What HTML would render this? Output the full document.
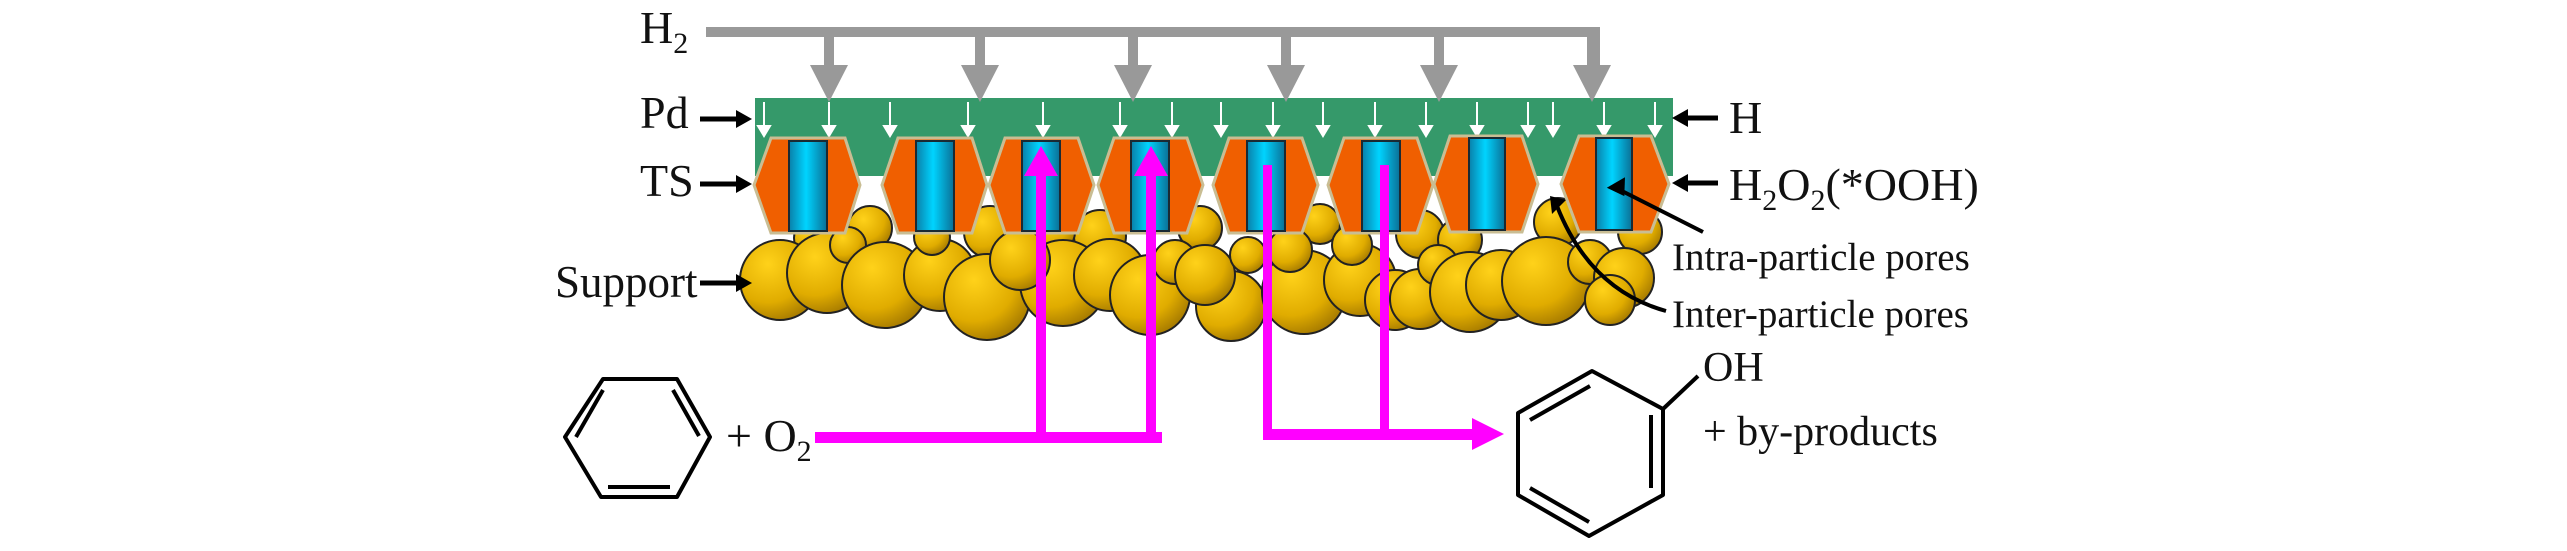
<!DOCTYPE html>
<html><head><meta charset="utf-8"><style>
html,body{margin:0;padding:0;background:#fff;}
svg{display:block;}
svg text{font-family:"Liberation Serif","DejaVu Serif",serif;}
</style></head><body>
<svg width="2567" height="551" viewBox="0 0 2567 551" xmlns="http://www.w3.org/2000/svg">
<defs>
<radialGradient id="gold" cx="0.35" cy="0.3" r="0.8">
<stop offset="0" stop-color="#ffd21a"/><stop offset="0.6" stop-color="#e0ac00"/><stop offset="1" stop-color="#9a7000"/>
</radialGradient>
<linearGradient id="rod" x1="0" x2="1" y1="0" y2="0">
<stop offset="0" stop-color="#0a7fa8"/><stop offset="0.45" stop-color="#00d4ff"/><stop offset="1" stop-color="#0b6f95"/>
</linearGradient>
</defs>

<g stroke="#222" stroke-width="2" fill="url(#gold)">
<circle cx="1558" cy="222" r="24"/><circle cx="1640" cy="232" r="22"/><circle cx="1200" cy="228" r="22"/><circle cx="1320" cy="224" r="20"/>
<circle cx="990" cy="232" r="26"/><circle cx="870" cy="228" r="22"/><circle cx="1100" cy="236" r="26"/><circle cx="1420" cy="234" r="24"/>
<circle cx="812" cy="238" r="18"/><circle cx="1460" cy="240" r="22"/><circle cx="1055" cy="232" r="20"/>
<circle cx="780" cy="280" r="40"/><circle cx="827" cy="273" r="40"/><circle cx="848" cy="245" r="18"/>
<circle cx="885" cy="285" r="43"/><circle cx="940" cy="275" r="36"/><circle cx="932" cy="237" r="18"/>
<circle cx="987" cy="297" r="43"/><circle cx="1063" cy="283" r="43"/><circle cx="1020" cy="260" r="30"/>
<circle cx="1110" cy="275" r="36"/><circle cx="1150" cy="295" r="40"/><circle cx="1175" cy="262" r="22"/>
<circle cx="1231" cy="306" r="35"/><circle cx="1205" cy="275" r="30"/><circle cx="1248" cy="255" r="18"/>
<circle cx="1304" cy="292" r="42"/><circle cx="1290" cy="250" r="22"/><circle cx="1360" cy="280" r="36"/>
<circle cx="1352" cy="245" r="20"/><circle cx="1395" cy="300" r="30"/><circle cx="1420" cy="299" r="30"/><circle cx="1438" cy="265" r="20"/>
<circle cx="1470" cy="292" r="40"/><circle cx="1501" cy="285" r="35"/><circle cx="1546" cy="281" r="44"/>
<circle cx="1590" cy="262" r="22"/><circle cx="1624" cy="278" r="30"/><circle cx="1610" cy="300" r="25"/>
</g>

<rect x="755" y="98" width="918" height="78" fill="#35996a"/>
<g fill="#fff" stroke="#fff" stroke-width="2">
<line x1="764" y1="102" x2="764" y2="128"/><path d="M758,126 L770,126 L764,136z"/>
<line x1="829" y1="102" x2="829" y2="128"/><path d="M823,126 L835,126 L829,136z"/>
<line x1="890" y1="102" x2="890" y2="128"/><path d="M884,126 L896,126 L890,136z"/>
<line x1="968" y1="102" x2="968" y2="128"/><path d="M962,126 L974,126 L968,136z"/>
<line x1="1043" y1="102" x2="1043" y2="128"/><path d="M1037,126 L1049,126 L1043,136z"/>
<line x1="1120" y1="102" x2="1120" y2="128"/><path d="M1114,126 L1126,126 L1120,136z"/>
<line x1="1172" y1="102" x2="1172" y2="128"/><path d="M1166,126 L1178,126 L1172,136z"/>
<line x1="1221" y1="102" x2="1221" y2="128"/><path d="M1215,126 L1227,126 L1221,136z"/>
<line x1="1273" y1="102" x2="1273" y2="128"/><path d="M1267,126 L1279,126 L1273,136z"/>
<line x1="1323" y1="102" x2="1323" y2="128"/><path d="M1317,126 L1329,126 L1323,136z"/>
<line x1="1375" y1="102" x2="1375" y2="128"/><path d="M1369,126 L1381,126 L1375,136z"/>
<line x1="1426" y1="102" x2="1426" y2="128"/><path d="M1420,126 L1432,126 L1426,136z"/>
<line x1="1477" y1="102" x2="1477" y2="128"/><path d="M1471,126 L1483,126 L1477,136z"/>
<line x1="1528" y1="102" x2="1528" y2="128"/><path d="M1522,126 L1534,126 L1528,136z"/>
<line x1="1553" y1="102" x2="1553" y2="128"/><path d="M1547,126 L1559,126 L1553,136z"/>
<line x1="1604" y1="102" x2="1604" y2="128"/><path d="M1598,126 L1610,126 L1604,136z"/>
<line x1="1655" y1="102" x2="1655" y2="128"/><path d="M1649,126 L1661,126 L1655,136z"/>
</g>

<g stroke="#c9bd93" stroke-width="3" fill="#f05f00">
<path d="M771,138 L845,138 L860,185 L845,233 L771,233 L754,185z"/>
<path d="M898,138 L972,138 L987,185 L972,233 L898,233 L882,185z"/>
<path d="M1005,138 L1078,138 L1094,185 L1078,233 L1005,233 L989,185z"/>
<path d="M1114,138 L1187,138 L1203,185 L1187,233 L1114,233 L1098,185z"/>
<path d="M1229,138 L1302,138 L1318,185 L1302,233 L1229,233 L1213,185z"/>
<path d="M1344,138 L1417,138 L1433,185 L1417,233 L1344,233 L1328,185z"/>
<path d="M1450,136 L1522,136 L1538,184 L1522,232 L1450,232 L1434,184z"/>
<path d="M1579,136 L1651,136 L1669,184 L1651,232 L1579,232 L1561,184z"/>
</g>
<g fill="url(#rod)" stroke="#1a2a33" stroke-width="2">
<rect x="789" y="141" width="38" height="90"/>
<rect x="916" y="141" width="38" height="90"/>
<rect x="1022" y="141" width="38" height="90"/>
<rect x="1131" y="141" width="38" height="90"/>
<rect x="1247" y="141" width="38" height="90"/>
<rect x="1362" y="141" width="38" height="90"/>
<rect x="1469" y="138" width="36" height="92"/>
<rect x="1596" y="138" width="36" height="92"/>
</g>

<g fill="#999">
<rect x="706" y="27" width="893" height="10"/>
<rect x="1590" y="27" width="10" height="40"/>
<rect x="824" y="32" width="10" height="35"/><path d="M810,65 L848,65 L829,102z"/>
<rect x="975" y="32" width="10" height="35"/><path d="M961,65 L999,65 L980,102z"/>
<rect x="1128" y="32" width="10" height="35"/><path d="M1114,65 L1152,65 L1133,102z"/>
<rect x="1281" y="32" width="10" height="35"/><path d="M1267,65 L1305,65 L1286,102z"/>
<rect x="1434" y="32" width="10" height="35"/><path d="M1420,65 L1458,65 L1439,102z"/>
<rect x="1587" y="32" width="10" height="35"/><path d="M1573,65 L1611,65 L1592,102z"/>
</g>

<g fill="#ff00ff">
<rect x="815" y="432" width="347" height="11"/>
<rect x="1036" y="170" width="10" height="265"/>
<path d="M1024,176 L1058,176 L1041,146z"/>
<rect x="1146" y="170" width="10" height="265"/>
<path d="M1134,176 L1168,176 L1151,146z"/>
<rect x="1263" y="165" width="9" height="270"/>
<rect x="1380" y="165" width="9" height="270"/>
<rect x="1263" y="429" width="212" height="11"/>
<path d="M1472,418 L1504,434 L1472,450z"/>
</g>

<g fill="#111" style="font-family:'Liberation Serif','DejaVu Serif',serif">
<text x="640" y="43" font-size="46">H<tspan font-size="30" dy="10">2</tspan></text>
<text x="640" y="128" font-size="46">Pd</text>
<text x="640" y="196" font-size="46">TS</text>
<text x="555" y="297" font-size="45">Support</text>
<text x="1729" y="133" font-size="46">H</text>
<text x="1729" y="200" font-size="46">H<tspan font-size="30" dy="10">2</tspan><tspan dy="-10">O</tspan><tspan font-size="30" dy="10">2</tspan><tspan dy="-10">(*OOH)</tspan></text>
<text x="1672" y="270" font-size="39">Intra-particle pores</text>
<text x="1672" y="327" font-size="39">Inter-particle pores</text>
<text x="726" y="451" font-size="46">+ O<tspan font-size="30" dy="10">2</tspan></text>
<text x="1703" y="381" font-size="42">OH</text>
<text x="1703" y="445" font-size="42">+ by-products</text>
</g>
<g stroke="#000" stroke-width="5" fill="none">
<line x1="700" y1="119" x2="740" y2="119"/>
<line x1="700" y1="184" x2="740" y2="184"/>
<line x1="700" y1="283" x2="740" y2="283"/>
<line x1="1718" y1="118" x2="1684" y2="118"/>
<line x1="1718" y1="183" x2="1684" y2="183"/>
</g>
<g fill="#000">
<path d="M736,110 L752,119 L736,128z"/>
<path d="M736,175 L752,184 L736,193z"/>
<path d="M736,274 L752,283 L736,292z"/>
<path d="M1688,109 L1672,118 L1688,127z"/>
<path d="M1688,174 L1672,183 L1688,192z"/>
</g>
<g stroke="#000" stroke-width="4" fill="none">
<line x1="1703" y1="232" x2="1620" y2="190"/>
<path d="M1666,311 Q1590,290 1557,206"/>
</g>
<path d="M1609,184 L1630,184 L1620,200z" fill="#000" transform="rotate(-30 1615 190)"/>
<path d="M1550,196 L1566,200 L1552,214z" fill="#000"/>

<g stroke="#000" stroke-width="4" fill="none" stroke-linejoin="round">
<path d="M603,379 L677,379 L710,437 L677,497 L601,497 L565,437z"/>
<line x1="673" y1="390" x2="699" y2="436"/>
<line x1="576" y1="437" x2="603" y2="390"/>
<line x1="608" y1="487" x2="670" y2="487"/>
</g>

<g stroke="#000" stroke-width="4" fill="none" stroke-linejoin="round">
<path d="M1592,371 L1663,409 L1663,495 L1589,536 L1518,495 L1518,413z"/>
<line x1="1530" y1="420" x2="1590" y2="386"/>
<line x1="1651" y1="415" x2="1651" y2="488"/>
<line x1="1530" y1="488" x2="1589" y2="522"/>
<line x1="1663" y1="409" x2="1698" y2="376"/>
</g>
</svg>
</body></html>
